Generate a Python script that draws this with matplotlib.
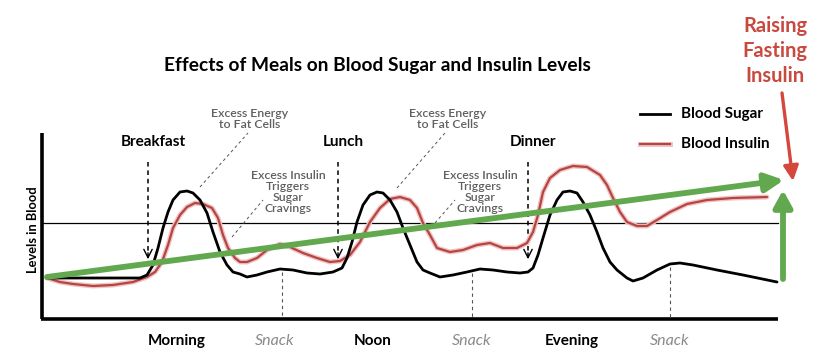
import matplotlib.pyplot as plt
import matplotlib.patheffects as pe

# coordinates in pixel units (x right, y down)
sugar_x = [47, 140, 147, 153, 158, 163, 168, 173, 180, 187, 193, 200, 207, 213, 220, 227, 233, 240,
           247, 257, 267, 280, 293, 307, 320, 333, 342, 347, 352, 357, 363, 370, 377, 383, 390, 397,
           403, 410, 417, 423, 430, 440, 453, 467, 480, 493, 507, 520, 528, 533, 538, 543, 550, 557,
           563, 570, 577, 583, 590, 597, 603, 610, 617, 627, 633, 643, 657, 670, 680, 693, 717, 743, 777]
sugar_y = [278, 278, 275, 265, 248, 228, 212, 200, 192, 191, 193, 200, 213, 232, 252, 265, 272, 274,
           277, 275, 272, 269, 270, 273, 274, 272, 268, 258, 242, 222, 205, 195, 192, 193, 200, 212,
           228, 245, 262, 270, 273, 277, 275, 272, 269, 270, 272, 273, 272, 268, 255, 238, 215, 200,
           192, 191, 193, 202, 215, 232, 248, 262, 270, 278, 281, 278, 270, 264, 263, 265, 270, 275, 282]

insulin_x = [47, 60, 73, 93, 113, 133, 147, 155, 162, 168, 173, 180, 187, 195, 203, 212, 218, 223,
             228, 235, 240, 247, 257, 267, 280, 290, 303, 317, 330, 340, 350, 360, 370, 380, 390, 400,
             410, 417, 423, 430, 437, 450, 463, 477, 490, 503, 517, 527, 533, 538, 543, 550, 560, 573,
             587, 600, 607, 613, 620, 627, 637, 647, 657, 670, 687, 707, 733, 767]
insulin_y = [278, 282, 284, 286, 285, 282, 277, 272, 262, 245, 228, 215, 207, 203, 204, 208, 218, 235,
             248, 258, 262, 262, 258, 250, 244, 247, 253, 258, 262, 261, 255, 242, 222, 208, 199, 197,
             200, 208, 223, 235, 248, 252, 250, 245, 243, 248, 248, 243, 232, 215, 192, 178, 170, 166,
             167, 175, 185, 198, 212, 222, 226, 226, 220, 212, 204, 200, 198, 197]

meals = ["Breakfast", "Lunch", "Dinner"]
meal_x = [148, 338, 528]
periods = ["Morning", "Noon", "Evening"]
period_x = [177, 373, 572]
snack_x = [282, 472, 670]
snack_label_x = [275, 472, 670]
snack_top = [268, 269, 263]

note_energy = "Excess Energy\nto Fat Cells"
note_energy_x = [250, 448]
note_energy_lines = [((200, 187), (248, 133)), ((397, 188), (445, 133))]
note_insulin = "Excess Insulin\nTriggers\nSugar\nCravings"
note_insulin_x = [288, 480]
note_insulin_lines = [((232, 237), (263, 200)), ((435, 223), (455, 200))]

trend_start = (47, 277)
trend_end = (784, 180)

RED = '#b54543'
GREEN = '#62a84e'
GRAY = '#5f5f5f'
FONT = 'Lato'

fig = plt.figure(figsize=(8.21, 3.6), dpi=100)
ax = fig.add_axes([0, 0, 1, 1])
ax.set_xlim(0, 821)
ax.set_ylim(360, 0)
ax.axis('off')

# frame
ax.plot([42, 42], [133, 319], color='black', lw=2.6, solid_capstyle='butt')
ax.plot([41, 778], [318.5, 318.5], color='black', lw=2.6, solid_capstyle='butt')
ax.plot([42, 778], [223, 223], color='black', lw=0.9)

# snack markers
for sx, top in zip(snack_x, snack_top):
    ax.plot([sx, sx], [top + 4, 318], color='#555555', lw=0.8, ls=(0, (3, 3)))

# meal arrows
for mx, name in zip(meal_x, meals):
    ax.plot([mx, mx], [162, 258], color='black', lw=1.1, ls=(0, (3, 2.5)))
    ax.annotate('', xy=(mx, 262), xytext=(mx, 250),
                arrowprops=dict(arrowstyle='->,head_length=0.6,head_width=0.3', color='black', lw=1.0))
    ax.text(mx + 5, 142, name, ha='center', va='center', fontsize=11, fontweight='bold', family=FONT)

# annotations
for nx, (p0, p1) in zip(note_energy_x, note_energy_lines):
    ax.plot([p0[0], p1[0]], [p0[1], p1[1]], color='#555555', lw=0.7, ls=(0, (3, 3)))
    ax.text(nx, 119, note_energy, ha='center', va='center', fontsize=8.8, color=GRAY,
            family=FONT, fontweight='semibold', linespacing=0.95)
for nx, (p0, p1) in zip(note_insulin_x, note_insulin_lines):
    ax.plot([p0[0], p1[0]], [p0[1], p1[1]], color='#555555', lw=0.7, ls=(0, (3, 3)))
    ax.text(nx, 192, note_insulin, ha='center', va='center', fontsize=8.8, color=GRAY,
            family=FONT, fontweight='semibold', linespacing=1.0)

# curves
ax.plot(insulin_x, insulin_y, color=RED, lw=1.6, solid_capstyle='round',
        path_effects=[pe.Stroke(linewidth=3.6, foreground='#f0c4c4'), pe.Normal()])
ax.plot(sugar_x, sugar_y, color='black', lw=2.0, solid_capstyle='round')

# trend arrow
ax.annotate('', xy=trend_end, xytext=trend_start,
            arrowprops=dict(arrowstyle='-|>,head_length=1.1,head_width=0.55', color=GREEN, lw=4.2,
                            shrinkA=0, shrinkB=0))
ax.annotate('', xy=(783, 190), xytext=(783, 279),
            arrowprops=dict(arrowstyle='-|>,head_length=1.0,head_width=0.55', color=GREEN, lw=4.2,
                            shrinkA=0, shrinkB=0))
ax.annotate('', xy=(793, 181), xytext=(782, 93),
            arrowprops=dict(arrowstyle='-|>,head_length=0.9,head_width=0.45', color='#d5463c', lw=2.4,
                            shrinkA=0, shrinkB=0))
ax.text(775, 51, "Raising\nFasting\nInsulin", ha='center', va='center', fontsize=14.5,
        fontweight='bold', color='#c9493f', family=FONT, linespacing=1.3)

# x labels
for px, name in zip(period_x, periods):
    ax.text(px, 341, name, ha='center', va='center', fontsize=11, fontweight='bold', family=FONT)
for sx in snack_label_x:
    ax.text(sx, 341, "Snack", ha='center', va='center', fontsize=11.5, style='italic',
            color='#8a8a8a', family=FONT)

ax.text(33, 230, "Levels in Blood", ha='center', va='center', rotation=90, fontsize=9.3,
        fontweight='bold', family=FONT)

ax.text(377, 65, "Effects of Meals on Blood Sugar and Insulin Levels", ha='center', va='center',
        fontsize=13.8, fontweight='bold', family=FONT)

# legend
ax.plot([640, 670], [114, 114], color='black', lw=2.0)
ax.plot([640, 670], [144, 144], color=RED, lw=1.6,
        path_effects=[pe.Stroke(linewidth=3.6, foreground='#f0c4c4'), pe.Normal()])
ax.text(681, 114, "Blood Sugar", ha='left', va='center', fontsize=11, fontweight='bold', family=FONT)
ax.text(681, 144, "Blood Insulin", ha='left', va='center', fontsize=11, fontweight='bold', family=FONT)

fig.savefig('out.png', dpi=100)
